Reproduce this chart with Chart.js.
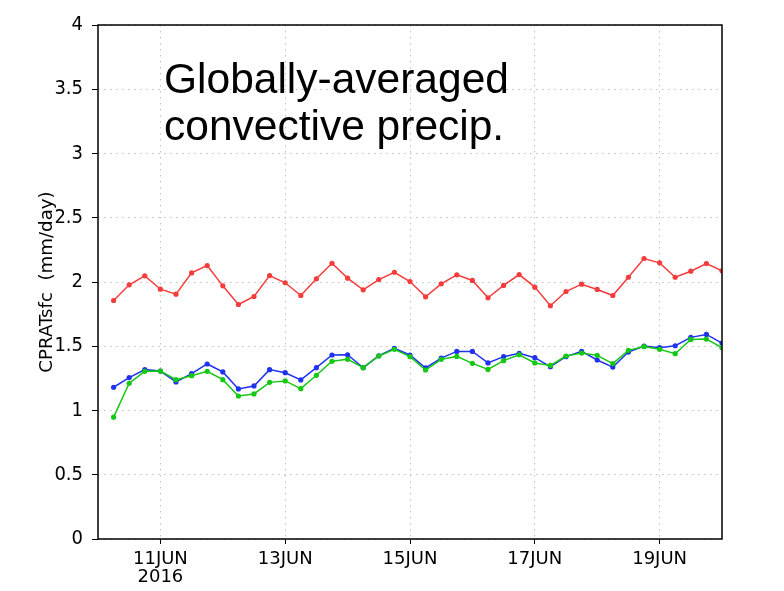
<!DOCTYPE html>
<html>
<head>
<meta charset="utf-8">
<script src="https://cdn.jsdelivr.net/npm/chart.js@4.4.1/dist/chart.umd.min.js"></script>
<style>
    body { margin: 0; background: #fff; }
    #wrap { position: relative; width: 784px; height: 591px; }
    #note {
        position: absolute; left: 164px; top: 55px;
        font-family: 'Liberation Sans', Arial, sans-serif;
        font-size: 42.5px; line-height: 47px; color: #000;
    }
</style>
</head>
<body>
<div id="wrap">
    <canvas id="chart" width="784" height="591"></canvas>
    <div id="note">Globally-averaged<br>convective precip.</div>
</div>
<script>
// hours since 10JUN2016 00Z, every 6 h
const hours = [6, 12, 18, 24, 30, 36, 42, 48, 54, 60, 66, 72, 78, 84, 90, 96, 102, 108, 114, 120,
    126, 132, 138, 144, 150, 156, 162, 168, 174, 180, 186, 192, 198, 204, 210, 216, 222, 228, 234, 240];

const redSeries = [1.856, 1.978, 2.048, 1.944, 1.905, 2.071, 2.128, 1.970, 1.825, 1.887,
    2.050, 1.994, 1.895, 2.025, 2.146, 2.030, 1.939, 2.019, 2.076, 2.004,
    1.885, 1.986, 2.056, 2.012, 1.877, 1.973, 2.058, 1.960, 1.815, 1.926,
    1.983, 1.942, 1.895, 2.037, 2.183, 2.149, 2.037, 2.084, 2.144, 2.087];

const blueSeries = [1.181, 1.256, 1.318, 1.307, 1.222, 1.287, 1.362, 1.300, 1.168, 1.191,
    1.318, 1.294, 1.238, 1.333, 1.432, 1.434, 1.333, 1.426, 1.483, 1.432,
    1.331, 1.408, 1.460, 1.460, 1.370, 1.419, 1.445, 1.411, 1.341, 1.419,
    1.460, 1.393, 1.338, 1.455, 1.502, 1.489, 1.504, 1.569, 1.592, 1.525];

const greenSeries = [0.948, 1.212, 1.305, 1.307, 1.240, 1.271, 1.305, 1.240, 1.113, 1.129,
    1.219, 1.230, 1.170, 1.274, 1.383, 1.398, 1.333, 1.424, 1.476, 1.419,
    1.315, 1.398, 1.421, 1.367, 1.320, 1.388, 1.434, 1.370, 1.351, 1.424,
    1.447, 1.429, 1.365, 1.468, 1.497, 1.476, 1.442, 1.553, 1.556, 1.489];

const tickHours = [24, 72, 120, 168, 216];
const tickLabels = [['11JUN', '2016'], '13JUN', '15JUN', '17JUN', '19JUN'];

function toPoints(ys) {
    return hours.map((h, i) => ({ x: h, y: ys[i] }));
}

function makeSet(ys, color) {
    return {
        data: toPoints(ys),
        borderColor: color,
        backgroundColor: color,
        borderWidth: 1.5,
        pointRadius: 2.6,
        pointBorderWidth: 0,
        tension: 0
    };
}

// 外框
const boxPlugin = {
    id: 'box',
    afterDraw(chart) {
        const a = chart.chartArea;
        const ctx = chart.ctx;
        ctx.save();
        ctx.strokeStyle = '#000';
        ctx.lineWidth = 1.5;
        ctx.strokeRect(a.left, a.top, a.right - a.left, a.bottom - a.top);
        ctx.restore();
    }
};

new Chart(document.getElementById('chart'), {
    type: 'line',
    data: {
        datasets: [
            makeSet(redSeries, '#f43c3c'),
            makeSet(greenSeries, '#14c814'),
            makeSet(blueSeries, '#1e32f0')
        ]
    },
    options: {
        responsive: false,
        animation: false,
        layout: { padding: { top: 25, right: 62, left: 0, bottom: 0 } },
        plugins: { legend: { display: false }, tooltip: { enabled: false } },
        scales: {
            x: {
                type: 'linear',
                min: 0,
                max: 240,
                afterFit: s => { s.height = 52; },
                afterBuildTicks: s => { s.ticks = tickHours.map(v => ({ value: v })); },
                ticks: {
                    autoSkip: false,
                    maxRotation: 0,
                    padding: 6,
                    color: '#000',
                    font: { family: "'DejaVu Sans', sans-serif", size: 18, lineHeight: 1.0 },
                    callback: (v) => tickLabels[tickHours.indexOf(v)]
                },
                grid: {
                    color: '#c0c0c0',
                    tickColor: '#000',
                    tickLength: 5,
                    tickBorderDash: []
                },
                border: { display: false, dash: [1.5, 4.5] }
            },
            y: {
                min: 0,
                max: 4,
                afterFit: s => { s.width = 98; },
                ticks: {
                    stepSize: 0.5,
                    padding: 9,
                    color: '#000',
                    font: { family: "'DejaVu Sans Condensed', 'DejaVu Sans', sans-serif", size: 20 },
                    callback: v => String(v)
                },
                grid: {
                    color: '#c0c0c0',
                    tickColor: '#000',
                    tickLength: 6,
                    tickBorderDash: []
                },
                border: { display: false, dash: [1.5, 4.5] },
                title: {
                    display: true,
                    text: 'CPRATsfc  (mm/day)',
                    color: '#000',
                    font: { family: "'DejaVu Sans', sans-serif", size: 18.2 },
                    padding: { top: 36, bottom: 0 }
                }
            }
        }
    },
    plugins: [boxPlugin]
});
</script>
</body>
</html>
